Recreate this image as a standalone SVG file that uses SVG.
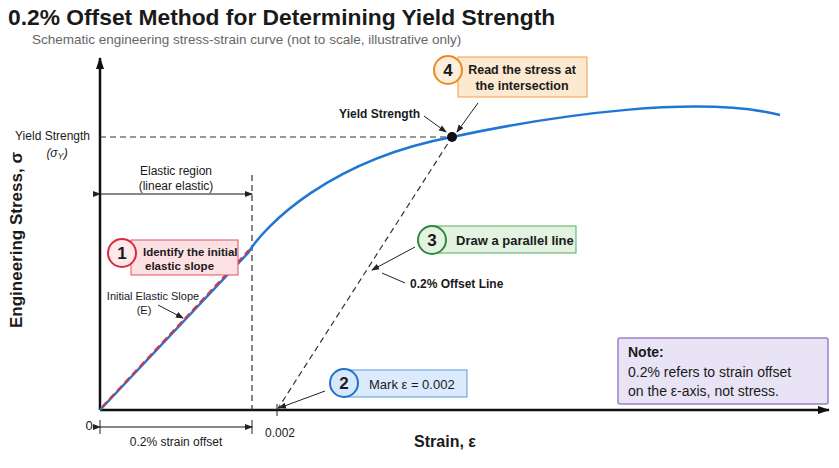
<svg xmlns="http://www.w3.org/2000/svg" width="839" height="468" viewBox="0 0 839 468">
<defs>
<style>
text{font-family:"Liberation Sans",Arial,sans-serif;fill:#1a1a1a}
.s{font-size:12px}
.b{font-weight:bold}
.num{font-size:17px;font-weight:bold;text-anchor:middle}
.dash{stroke:#333;stroke-width:1.2;stroke-dasharray:6 4;fill:none}
.ar{stroke:#222;stroke-width:1;fill:none;marker-end:url(#a)}
</style>
<marker id="a" markerWidth="8" markerHeight="8" refX="7" refY="4" orient="auto" markerUnits="userSpaceOnUse"><path d="M0,1 L8,4 L0,7z" fill="#222"/></marker>
<marker id="ab" markerWidth="12" markerHeight="10" refX="11" refY="5" orient="auto-start-reverse" markerUnits="userSpaceOnUse"><path d="M0,1 L12,5 L0,9z" fill="#111"/></marker>
</defs>
<rect width="839" height="468" fill="#fff"/>
<text x="8" y="25" style="font-size:22.8px;font-weight:bold">0.2% Offset Method for Determining Yield Strength</text>
<text x="32" y="44" style="font-size:13.5px;fill:#666">Schematic engineering stress-strain curve (not to scale, illustrative only)</text>

<g id="axes">
<line x1="100" y1="410" x2="100" y2="58" stroke="#111" stroke-width="2.5" marker-end="url(#ab)"/>
<line x1="100" y1="410" x2="829" y2="410" stroke="#111" stroke-width="2.5" marker-end="url(#ab)"/>
<text transform="translate(22,240) rotate(-90)" text-anchor="middle" style="font-size:17px;font-weight:bold">Engineering Stress, σ</text>
<text x="445" y="447" text-anchor="middle" style="font-size:16px;font-weight:bold">Strain, ε</text>
<text x="89" y="430" text-anchor="middle" style="font-size:13px">0</text>
<text x="280" y="437" text-anchor="middle" class="s">0.002</text>
<line x1="277" y1="404" x2="277" y2="416" stroke="#222"/>
<text x="90" y="140" text-anchor="end" class="s">Yield Strength</text>
<text x="57" y="157" text-anchor="middle" class="s" font-style="italic">(σ<tspan font-size="9" dy="2">Y</tspan><tspan dy="-2">)</tspan></text>
</g>

<g id="connectors">
<line class="dash" x1="100" y1="137" x2="452" y2="137"/>
<line class="dash" x1="252" y1="175" x2="252" y2="410"/>
<line class="dash" x1="277" y1="410" x2="452" y2="137"/>
<line x1="100" y1="194" x2="252" y2="194" stroke="#111" marker-start="url(#a)" marker-end="url(#a)"/>
<line x1="100" y1="427" x2="252" y2="427" stroke="#111" marker-start="url(#a)" marker-end="url(#a)"/>
<line x1="100" y1="420" x2="100" y2="434" stroke="#222"/>
<line x1="252" y1="420" x2="252" y2="434" stroke="#222"/>
<path d="M100,410 L248,253 C265,225 330,160 452,137 C560,114 700,95 780,115" fill="none" stroke="#1f77d4" stroke-width="2.5"/>
<line x1="102" y1="407" x2="249" y2="250" stroke="#e0303e" stroke-width="2" stroke-dasharray="7 4"/>
<circle cx="452" cy="137" r="5" fill="#111"/>
<line class="ar" x1="158" y1="305" x2="183" y2="318"/>
<line class="ar" x1="325" y1="391" x2="279" y2="408"/>
<line class="ar" x1="415" y1="247" x2="372" y2="270"/>
<line x1="382" y1="273" x2="405" y2="283" stroke="#222"/>
<line class="ar" x1="478" y1="103" x2="457" y2="132"/>
<line class="ar" x1="424" y1="116" x2="446" y2="132"/>
</g>

<g id="labels">
<text x="176" y="175" text-anchor="middle" class="s">Elastic region</text>
<text x="176" y="190" text-anchor="middle" class="s">(linear elastic)</text>
<text x="153" y="300" text-anchor="middle" style="font-size:11px">Initial Elastic Slope</text>
<text x="144" y="314" text-anchor="middle" style="font-size:11px">(E)</text>
<text x="176" y="446" text-anchor="middle" class="s">0.2% strain offset</text>
<text x="410" y="288" class="s b">0.2% Offset Line</text>
<text x="420" y="118" text-anchor="end" class="s b">Yield Strength</text>
</g>

<g id="step1">
<rect x="131" y="240" width="107" height="35" fill="#fde0e3" stroke="#e05060"/>
<circle cx="122" cy="253" r="14" fill="#fde8ea" stroke="#d82a3c" stroke-width="2"/>
<text x="122" y="259" class="num">1</text>
<text x="143" y="256" style="font-size:11.5px;font-weight:bold">Identify the initial</text>
<text x="145" y="270" style="font-size:11.5px;font-weight:bold">elastic slope</text>
</g>
<g id="step2">
<rect x="345" y="370" width="122" height="27" fill="#dbeafc" stroke="#5a9ad8"/>
<circle cx="344" cy="383" r="14" fill="#d6e8fb" stroke="#1f72c8" stroke-width="2"/>
<text x="344" y="389" class="num">2</text>
<text x="369" y="389" style="font-size:13px">Mark ε = 0.002</text>
</g>
<g id="step3">
<rect x="432" y="226" width="144" height="27" fill="#e3f3e1" stroke="#5aa860"/>
<circle cx="432" cy="240" r="14" fill="#e3f3e1" stroke="#2f8a3c" stroke-width="2"/>
<text x="432" y="246" class="num">3</text>
<text x="456" y="245" style="font-size:13px;font-weight:bold">Draw a parallel line</text>
</g>
<g id="step4">
<rect x="458" y="57" width="129" height="40" fill="#fde8d0" stroke="#f0a040"/>
<circle cx="448" cy="70" r="14" fill="#fdeedd" stroke="#ec8a20" stroke-width="2"/>
<text x="448" y="76" class="num">4</text>
<text x="522" y="74" text-anchor="middle" style="font-size:12.5px;font-weight:bold">Read the stress at</text>
<text x="522" y="90" text-anchor="middle" style="font-size:12.5px;font-weight:bold">the intersection</text>
</g>
<g id="note">
<rect x="618" y="338" width="210" height="66" rx="2" fill="#e8e4f5" stroke="#9a80c8" stroke-width="1.5"/>
<text x="628" y="357" style="font-size:14px;font-weight:bold">Note:</text>
<text x="628" y="377" style="font-size:14px">0.2% refers to strain offset</text>
<text x="628" y="396" style="font-size:14px">on the ε-axis, not stress.</text>
</g>
</svg>
